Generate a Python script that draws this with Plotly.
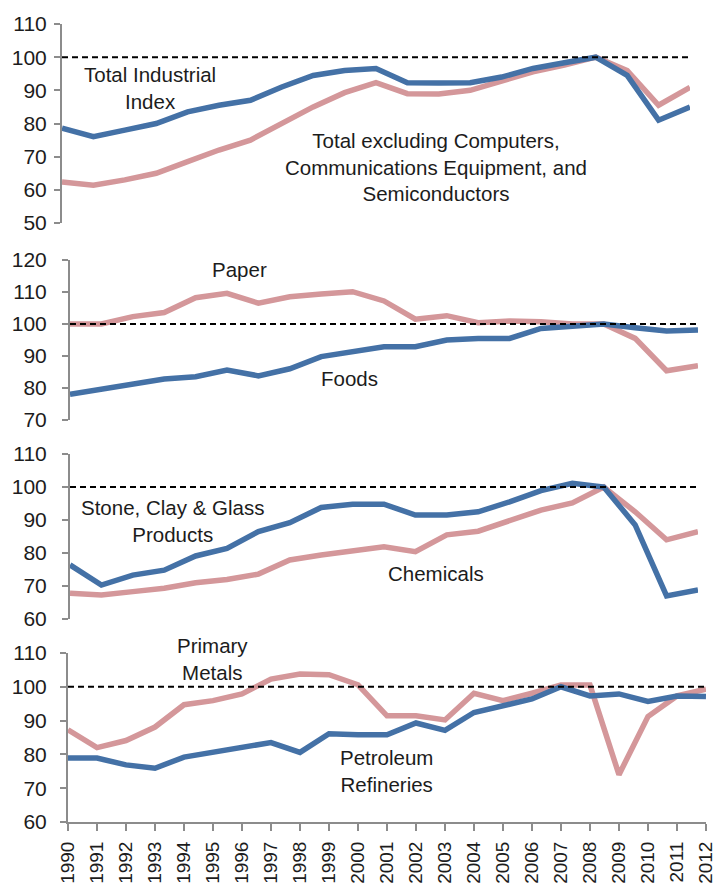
import plotly.graph_objects as go

# Annual index values, 2007 = 100
years_short = list(range(1990, 2011))
years_long = list(range(1990, 2013))

total_index = [78.6, 76.0, 78.0, 80.0, 83.5, 85.5, 87.0, 91.0, 94.5, 96.0, 96.6,
               92.3, 92.2, 92.3, 94.0, 96.6, 98.3, 100.0, 94.5, 81.0, 85.0]
total_excl = [62.4, 61.4, 63.0, 65.0, 68.5, 72.0, 75.0, 80.0, 85.0, 89.3, 92.3,
              89.0, 88.9, 90.0, 92.6, 95.6, 97.6, 100.0, 96.0, 85.5, 90.9]

paper = [100.0, 100.0, 102.3, 103.6, 108.2, 109.6, 106.5, 108.5, 109.4, 110.1, 107.2,
         101.5, 102.6, 100.4, 100.9, 100.7, 100.0, 100.0, 95.5, 85.4, 87.0]
foods = [78.0, 79.6, 81.0, 82.8, 83.5, 85.6, 83.8, 86.0, 89.8, 91.2, 92.9,
         92.9, 95.0, 95.5, 95.5, 98.6, 99.4, 100.0, 98.8, 97.8, 98.1]

stone = [76.4, 70.3, 73.3, 74.8, 79.1, 81.4, 86.5, 89.2, 93.8, 94.8, 94.8,
         91.5, 91.5, 92.5, 95.5, 98.9, 101.1, 100.0, 88.5, 67.0, 68.8]
chemicals = [67.8, 67.3, 68.3, 69.3, 71.0, 72.0, 73.6, 77.9, 79.4, 80.7, 81.9,
             80.4, 85.5, 86.6, 90.0, 93.0, 95.2, 100.0, 92.5, 84.0, 86.5]

petroleum = [78.9, 78.9, 76.9, 75.9, 79.2, 80.6, 82.2, 83.5, 80.6, 86.1, 85.8, 85.8,
             89.3, 87.1, 92.4, 94.4, 96.4, 100.0, 97.3, 97.9, 95.7, 97.3, 97.1]
metals = [87.3, 82.0, 84.1, 88.1, 94.7, 95.9, 97.9, 102.3, 103.8, 103.6, 100.6, 91.4,
          91.4, 90.2, 98.1, 95.9, 98.1, 100.5, 100.5, 74.0, 91.2, 97.3, 99.3]

BLUE = "#4471A6"
PINK = "#D4979A"
AXIS = "#8C8C8C"
TEXT = "#1C1C1C"
FONT = "Liberation Sans"
W, H = 715, 884

# panel geometry in pixels: (x0, x1), (ytop, ybottom), y range, y ticks, label standoff
panels = [
    dict(px=(62, 690), py=(24, 223), yr=(50, 110), yt=list(range(50, 111, 10)), so=3,
         xs=years_short, blue=total_index, pink=total_excl),
    dict(px=(70, 698), py=(260, 420), yr=(70, 120), yt=list(range(70, 121, 10)), so=11,
         xs=years_short, blue=foods, pink=paper),
    dict(px=(70, 698), py=(454, 619), yr=(60, 110), yt=list(range(60, 111, 10)), so=11,
         xs=years_short, blue=stone, pink=chemicals),
    dict(px=(68, 706), py=(653, 822), yr=(60, 110), yt=list(range(60, 111, 10)), so=9,
         xs=years_long, blue=petroleum, pink=metals),
]

fig = go.Figure()
layout = dict(width=W, height=H, margin=dict(l=0, r=0, t=0, b=0, autoexpand=False),
              paper_bgcolor="white", plot_bgcolor="white", showlegend=False,
              font=dict(family=FONT, color=TEXT))
shapes = []

for i, p in enumerate(panels, start=1):
    sfx = "" if i == 1 else str(i)
    xa, ya = "x" + sfx, "y" + sfx
    for series, col in ((p["pink"], PINK), (p["blue"], BLUE)):
        fig.add_trace(go.Scatter(x=p["xs"], y=series, mode="lines", xaxis=xa, yaxis=ya,
                                 line=dict(color=col, width=5.5), hoverinfo="skip"))
    bottom = i == len(panels)
    layout["xaxis" + sfx] = dict(
        domain=[p["px"][0] / W, p["px"][1] / W], anchor=ya, automargin=False,
        range=[p["xs"][0], p["xs"][-1] + 0.001], showgrid=False, zeroline=False,
        showline=bottom, linecolor=AXIS, linewidth=2,
        ticks="outside" if bottom else "", ticklen=7, tickwidth=2, tickcolor=AXIS,
        tickmode="array", tickvals=p["xs"], ticktext=[str(v) for v in p["xs"]],
        tickangle=-90, showticklabels=bottom, ticklabeloverflow="allow",
        tickfont=dict(size=19, color=TEXT, family=FONT), ticklabelstandoff=3,
    )
    layout["yaxis" + sfx] = dict(
        domain=[1 - p["py"][1] / H, 1 - p["py"][0] / H], anchor=xa, automargin=False,
        range=list(p["yr"]), tickvals=p["yt"], showgrid=False, zeroline=False,
        showline=True, linecolor=AXIS, linewidth=2,
        ticks="outside", ticklen=6, tickwidth=2, tickcolor=AXIS,
        tickfont=dict(size=21, color=TEXT, family=FONT), ticklabelstandoff=p["so"],
    )
    # reference level at 100
    shapes.append(dict(type="line", xref=xa + " domain", yref=ya, x0=0, x1=1, y0=100, y1=100,
                       line=dict(color="black", width=2, dash="6px,4px"), layer="above"))

labels = [
    (1, 1992.8, 90.7, "Total Industrial<br>Index"),
    (1, 2001.9, 66.9, "Total excluding Computers,<br>Communications Equipment, and<br>Semiconductors"),
    (2, 1995.4, 116.9, "Paper"),
    (2, 1998.9, 83.1, "Foods"),
    (3, 1993.25, 89.8, "Stone, Clay &amp; Glass<br>Products"),
    (3, 2001.65, 73.9, "Chemicals"),
    (4, 1994.97, 108.1, "Primary<br>Metals"),
    (4, 2000.97, 75.0, "Petroleum<br>Refineries"),
]
annotations = []
for i, x, y, txt in labels:
    sfx = "" if i == 1 else str(i)
    annotations.append(dict(x=x, y=y, xref="x" + sfx, yref="y" + sfx, text=txt,
                            showarrow=False, xanchor="center", yanchor="middle", align="center",
                            font=dict(size=20.5, color=TEXT, family=FONT)))

layout["shapes"] = shapes
layout["annotations"] = annotations
fig.update_layout(**layout)
fig.write_html("out.html")
